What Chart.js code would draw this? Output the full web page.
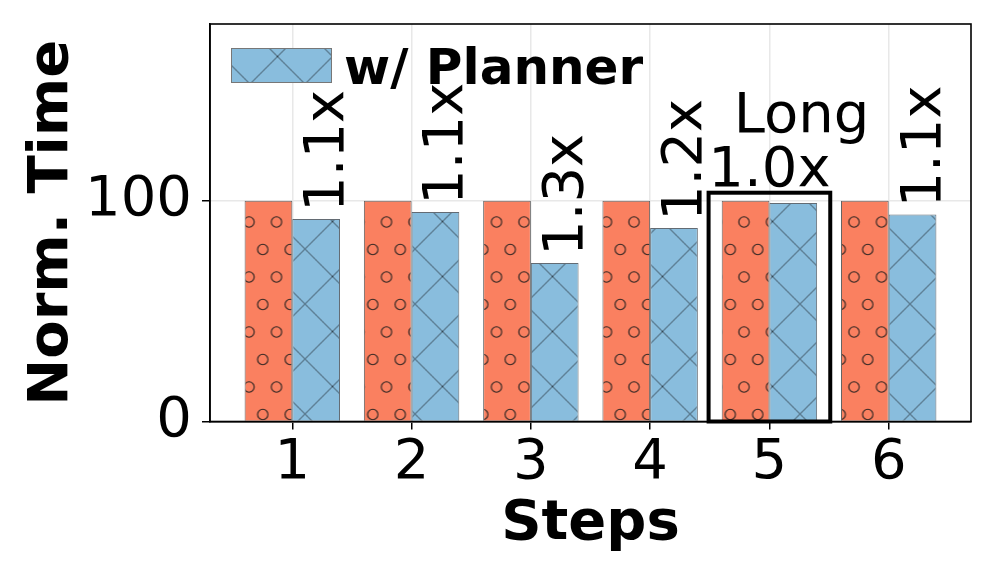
<!DOCTYPE html>
<html><head><meta charset="utf-8">
<script src="https://cdn.jsdelivr.net/npm/chart.js@4.4.1/dist/chart.umd.min.js"></script>
<style>html,body{margin:0;padding:0;background:#fff;}</style>
</head><body>
<canvas id="c" width="997" height="581"></canvas>
<script>
// ---- data ----
const steps = [1, 2, 3, 4, 5, 6];
const withoutPlanner = [100, 100, 100, 100, 100, 100];
const withPlanner = [91.7, 94.9, 71.8, 87.6, 99.0, 93.7];
const speedupLabels = ['1.1x', '1.1x', '1.3x', '1.2x', '1.0x', '1.1x'];
const yTicks = [0, 100];
const seriesNames = ['w/o Planner', 'w/ Planner'];
const highlightStep = 5;
const highlightText = 'Long';

// ---- styles ----
const RED = 'rgb(250,128,96)';
const BLUE = 'rgb(137,189,221)';
const FONT = '"DejaVu Sans", sans-serif';
const canvas = document.getElementById('c');
const ctx = canvas.getContext('2d');

function makePattern(bg, drawFn, dx, dy) {
  const T = 55;
  const c = document.createElement('canvas');
  c.width = T; c.height = T;
  const g = c.getContext('2d');
  g.fillStyle = bg; g.fillRect(0, 0, T, T);
  drawFn(g, T);
  const p = ctx.createPattern(c, 'repeat');
  p.setTransform(new DOMMatrix([1, 0, 0, 1, dx, dy]));
  return p;
}
const circlePat = makePattern(RED, (g, T) => {
  g.strokeStyle = 'rgba(30,30,30,0.95)'; g.lineWidth = 1.1;
  const h = T / 2, q = T / 4;
  const pts = [[0,0],[h,0],[T,0],[0,T],[h,T],[T,T],[q,h],[q+h,h],[q-h,h],[q+T,h]];
  pts.forEach(([px, py]) => { g.beginPath(); g.arc(px, py, 5.2, 0, Math.PI * 2); g.stroke(); });
}, 1.5, 2);
const crossPat = makePattern(BLUE, (g, T) => {
  g.strokeStyle = 'rgba(40,50,60,0.85)'; g.lineWidth = 1;
  g.beginPath();
  for (let k = -1; k <= 1; k++) { g.moveTo(-5, -5 + k * T); g.lineTo(T + 5, T + 5 + k * T); }
  for (let k = 0; k <= 2; k++) { g.moveTo(-5, k * T + 5); g.lineTo(T + 5, k * T - T - 5); }
  g.stroke();
}, 2.5, 1.5);

const annot = {
  id: 'annot',
  afterDraw(chart) {
    const { ctx, chartArea: a, scales: { x, y } } = chart;
    ctx.save();
    // frame
    ctx.strokeStyle = '#000'; ctx.lineWidth = 1.6;
    ctx.strokeRect(a.left, a.top, a.right - a.left, a.bottom - a.top);
    // rotated speedup labels
    const meta = chart.getDatasetMeta(1);
    ctx.fillStyle = '#000';
    ctx.font = '56px ' + FONT;
    steps.forEach((s, i) => {
      if (s === highlightStep) return;
      const bar = meta.data[i];
      ctx.save();
      ctx.translate(bar.x + 27, bar.y - 7);
      ctx.rotate(-Math.PI / 2);
      ctx.textAlign = 'left'; ctx.textBaseline = 'alphabetic';
      ctx.fillText(speedupLabels[i], 0, 0);
      ctx.restore();
    });
    // highlight box
    const hi = steps.indexOf(highlightStep);
    const bx0 = x.getPixelForValue(highlightStep - 0.51);
    const bx1 = x.getPixelForValue(highlightStep + 0.51);
    const by0 = y.getPixelForValue(103.6);
    const by1 = y.getPixelForValue(0);
    ctx.lineWidth = 4; ctx.strokeStyle = '#000';
    ctx.strokeRect(bx0, by0, bx1 - bx0, by1 - by0);
    ctx.textAlign = 'center'; ctx.textBaseline = 'alphabetic';
    ctx.fillText(speedupLabels[hi], x.getPixelForValue(highlightStep), by0 - 6.5);
    ctx.fillText(highlightText, x.getPixelForValue(highlightStep + 0.27), y.getPixelForValue(131));
    // legend (only the "w/ Planner" series)
    const lx = a.left + 21, ly = a.top + 24;
    ctx.fillStyle = crossPat; ctx.fillRect(lx, ly, 101, 35);
    ctx.strokeStyle = '#777'; ctx.lineWidth = 1; ctx.strokeRect(lx + 0.5, ly + 0.5, 100, 34);
    ctx.fillStyle = '#000';
    ctx.font = 'bold 50px ' + FONT;
    ctx.textAlign = 'left';
    ctx.fillText(seriesNames[1], a.left + 134, a.top + 59.5);
    ctx.restore();
  }
};

new Chart(ctx, {
  type: 'bar',
  data: {
    datasets: [
      { label: seriesNames[0], data: steps.map((s, i) => ({ x: s, y: withoutPlanner[i] })),
        backgroundColor: circlePat, borderColor: 'rgba(60,60,60,0.8)', borderWidth: 1,
        categoryPercentage: 0.8, barPercentage: 1.0 },
      { label: seriesNames[1], data: steps.map((s, i) => ({ x: s, y: withPlanner[i] })),
        backgroundColor: crossPat, borderColor: 'rgba(60,70,80,0.8)', borderWidth: 1,
        categoryPercentage: 0.8, barPercentage: 1.0 }
    ]
  },
  options: {
    responsive: false, animation: false,
    layout: { padding: { top: 24, right: 26, left: 0, bottom: 0 } },
    plugins: { legend: { display: false }, tooltip: { enabled: false } },
    scales: {
      x: {
        type: 'linear', min: 0.31, max: 6.69, offset: false,
        grid: { offset: false, color: '#e8e8e8', lineWidth: 1.5, tickColor: '#000', tickLength: 8, drawTicks: true },
        border: { color: '#000', width: 1.6 },
        ticks: { font: { family: FONT, size: 56 }, color: '#000', padding: 0, maxRotation: 0 },
        afterBuildTicks: s => { s.ticks = steps.map(v => ({ value: v })); },
        afterFit: s => { s.height = 159.5; s.paddingLeft = 0; s.paddingRight = 0; },
        title: { display: true, text: 'Steps', color: '#000',
                 font: { family: FONT, size: 56, weight: 'bold' }, padding: { top: 0, bottom: 23 } }
      },
      y: {
        min: 0, max: 180,
        grid: { color: '#e8e8e8', lineWidth: 1.5, tickColor: '#000', tickLength: 8, drawTicks: true },
        border: { color: '#000', width: 1.6 },
        ticks: { font: { family: FONT, size: 56 }, color: '#000', padding: 10 },
        afterBuildTicks: s => { s.ticks = yTicks.map(v => ({ value: v })); },
        afterFit: s => { s.width = 210; s.paddingTop = 0; s.paddingBottom = 0; },
        title: { display: true, text: 'Norm. Time', color: '#000',
                 font: { family: FONT, size: 56, weight: 'bold' }, padding: { top: 19, bottom: 0 } }
      }
    }
  },
  plugins: [annot]
});
</script>
</body></html>
